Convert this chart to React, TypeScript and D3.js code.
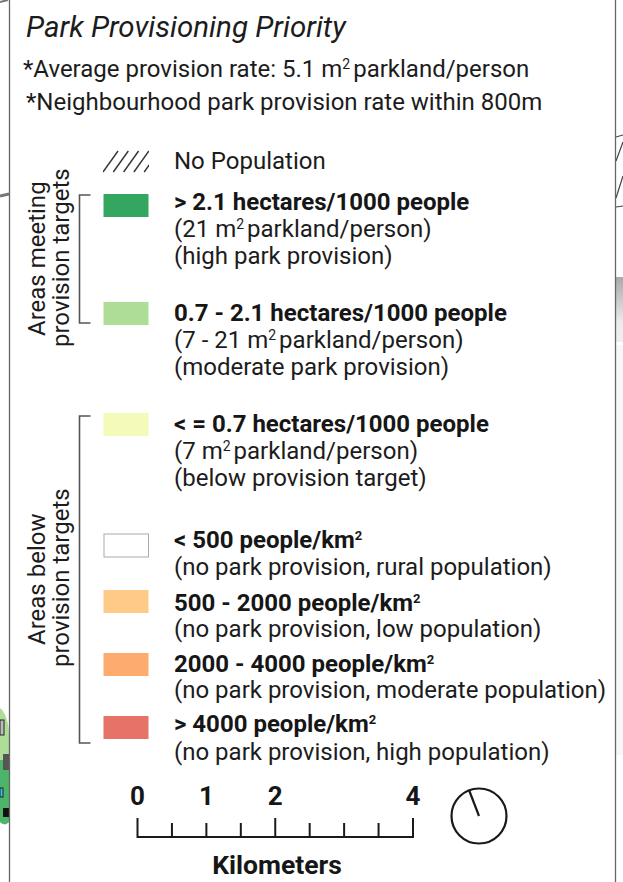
import React from "react";
import * as d3 from "d3";

const W = 623, H = 882;
const titleText = "Park Provisioning Priority";
const noteLabels = ["*Average provision rate: 5.1 m", "*Neighbourhood park provision rate within 800m"];
const noDataLabel = "No Population";

const swatchColors = ["#34a65f", "#aedd97", "#f4fbb9", "#ffffff", "#fdca87", "#fdab6f", "#e57368"];
const headLabels = [
  "> 2.1 hectares/1000 people",
  "0.7 - 2.1 hectares/1000 people",
  "< = 0.7 hectares/1000 people",
  "< 500 people/km",
  "500 - 2000 people/km",
  "2000 - 4000 people/km",
  "> 4000 people/km",
];
const headSup = [false, false, false, true, true, true, true];
const subLabels = [
  ["(21 m|parkland/person)", "(high park provision)"],
  ["(7 - 21 m|parkland/person)", "(moderate park provision)"],
  ["(7 m|parkland/person)", "(below provision target)"],
  ["(no park provision, rural population)"],
  ["(no park provision, low population)"],
  ["(no park provision, moderate population)"],
  ["(no park provision, high population)"],
];
const scaleLabels = [0, 1, 2, 4];
const scaleTicks = [0, 0.5, 1, 1.5, 2, 2.5, 3, 3.5, 4];

// layout of the legend rows
const swatchTops = [194, 302, 413, 534, 590, 653, 716];
const headBase = [210, 321, 432, 548, 611, 672, 732];
const subBase = [237, 348, 459, 575, 637, 698, 760];

const x = d3.scaleLinear().domain([0, 4]).range([137.5, 413]);
const FONT = "Roboto, sans-serif";
const TXT = "#1c1c1c";

function Sub({ s, y }: { s: string; y: number }) {
  const [a, b] = s.split("|");
  return (
    <text x={174} y={y} fontSize={24} fill={TXT}>
      {a}
      {b !== undefined && <tspan fontSize={14} dy={-8}>2</tspan>}
      {b !== undefined && <tspan dx={3} dy={8}>{b}</tspan>}
    </text>
  );
}

function Bracket({ x0, y0, y1 }: { x0: number; y0: number; y1: number }) {
  return <path d={`M${x0 + 11},${y0}H${x0}V${y1}H${x0 + 11}`} fill="none" stroke="#555" strokeWidth={1.6} />;
}

export default function App() {
  return (
    <svg width={W} height={H} viewBox={`0 0 ${W} ${H}`} style={{ position: "absolute", left: 0, top: 0, background: "#fff", fontFamily: FONT }}>
      <defs>
        <linearGradient id="fade" x1="0" y1="0" x2="0" y2="1">
          <stop offset="0" stopColor="#a9a9a9" />
          <stop offset="0.7" stopColor="#ececec" />
          <stop offset="1" stopColor="#efefef" />
        </linearGradient>
        <clipPath id="hatchClip"><rect x={103} y={150} width={46} height={23} /></clipPath>
      </defs>

      {/* map fragments beside the legend */}
      <rect x={616} y={277} width={7} height={65} fill="url(#fade)" />
      <rect x={616} y={345} width={7} height={410} fill="#f7f7f7" />
      <path d="M616,137L623,135M616,161L623,142M616,198L623,176M616,207L623,206" fill="none" stroke="#444" strokeWidth={1.2} />
      <path d="M0,196L9,194" stroke="#777" strokeWidth={3} />
      <path d="M0,2L8,0" stroke="#777" strokeWidth={2} />
      <path d="M0,708C5,712 9,722 9,735V822C5,826 2,824 0,822Z" fill="#aedd97" />
      <path d="M0,760H9V822C5,826 2,824 0,822Z" fill="#4cb56a" />
      <rect x={0} y={720} width={4} height={15} fill="#bbb" stroke="#222" />
      <rect x={3} y={754} width={6} height={16} fill="#555" />
      <rect x={0} y={788} width={3} height={9} fill="#3ac3e6" stroke="#222" />
      <rect x={3} y={808} width={6} height={9} fill="#111" />

      <rect x={9.5} y={-2} width={606} height={H + 4} fill="#fff" stroke="#666" strokeWidth={1.3} />

      <text x={26} y={37} fontSize={29.5} fontStyle="italic" fill={TXT}>{titleText}</text>
      <text x={23} y={77} fontSize={24} fill={TXT}>
        {noteLabels[0]}
        <tspan fontSize={14} dy={-8}>2</tspan>
        <tspan dx={3} dy={8}>parkland/person</tspan>
      </text>
      <text x={26} y={110} fontSize={24} fill={TXT}>{noteLabels[1]}</text>

      <g clipPath="url(#hatchClip)">
        {d3.range(5).map((i) => (
          <path key={i} d={`M${103 + i * 10.3},172L${118 + i * 10.3},151`} stroke="#333" strokeWidth={1.4} />
        ))}
      </g>
      <text x={174} y={169} fontSize={24} fill={TXT}>{noDataLabel}</text>

      {swatchColors.map((c, i) => (
        <g key={i}>
          <rect
            x={i === 3 ? 104 : 103.5}
            y={swatchTops[i]}
            width={i === 3 ? 44.5 : 45}
            height={23}
            fill={c}
            stroke={i === 3 ? "#aaa" : "none"}
            strokeWidth={1}
          />
          <text x={174} y={headBase[i]} fontSize={24} fontWeight={700} fill="#161616">
            {headLabels[i]}
            {headSup[i] && <tspan fontSize={13} dy={-8}>2</tspan>}
          </text>
          {subLabels[i].map((s, j) => (
            <Sub key={j} s={s} y={subBase[i] + j * 27} />
          ))}
        </g>
      ))}

      <Bracket x0={79.5} y0={195} y1={323} />
      <Bracket x0={79.5} y0={416} y1={743} />

      <text transform="translate(45,336) rotate(-90)" fontSize={24} fill={TXT}>Areas meeting</text>
      <text transform="translate(69,347) rotate(-90)" fontSize={24} fill={TXT}>provision targets</text>
      <text transform="translate(45,645) rotate(-90)" fontSize={24} fill={TXT}>Areas below</text>
      <text transform="translate(69,667) rotate(-90)" fontSize={24} fill={TXT}>provision targets</text>

      {scaleLabels.map((v) => (
        <text key={v} x={x(v)} y={805} textAnchor="middle" fontSize={26} fontWeight={700} fill="#161616">{v}</text>
      ))}
      <path d={`M${x(0)},837H${x(4)}`} stroke="#1a1a1a" strokeWidth={2} />
      {scaleTicks.map((v) => (
        <path key={v} d={`M${x(v)},838V${Number.isInteger(v / 2) ? 818 : 823}`} stroke="#1a1a1a" strokeWidth={2} />
      ))}
      <text x={277} y={874} textAnchor="middle" fontSize={26.5} fontWeight={700} fill="#161616">Kilometers</text>

      <circle cx={479} cy={816} r={27.5} fill="none" stroke="#1a1a1a" strokeWidth={2.2} />
      <path d="M469,790L479,816" stroke="#1a1a1a" strokeWidth={2.2} />
    </svg>
  );
}
